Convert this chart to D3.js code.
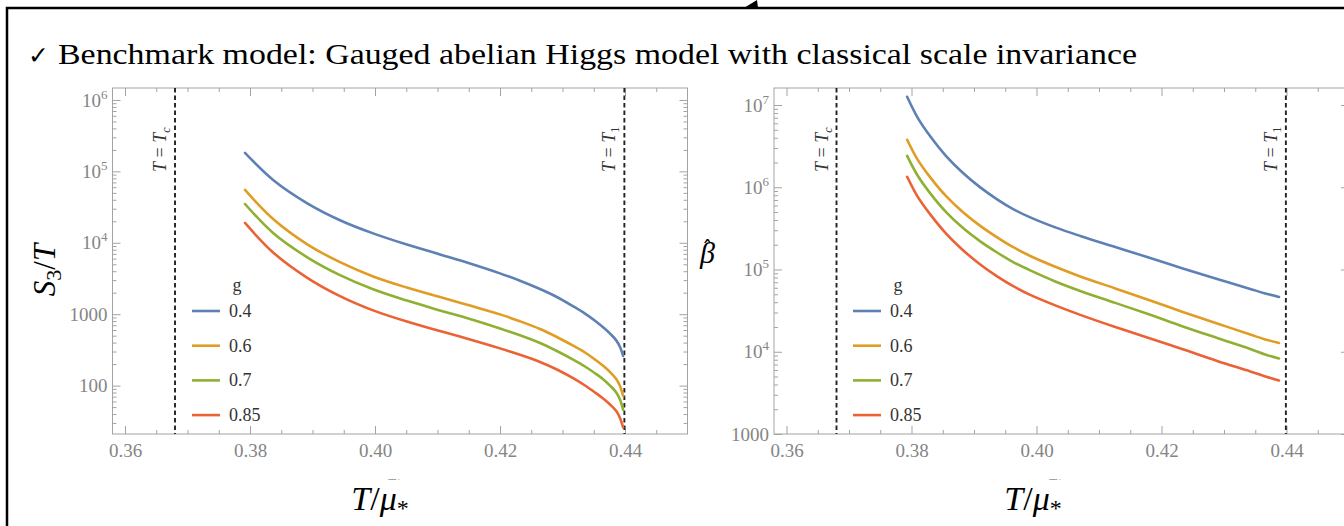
<!DOCTYPE html>
<html>
<head>
<meta charset="utf-8">
<script src="https://cdn.jsdelivr.net/npm/d3@7"></script>
<style>
  body { margin: 0; background: #fff; }
  svg { display: block; }
</style>
</head>
<body>
<svg id="chart" width="1344" height="526"></svg>
<script>
// ---- data ----
const couplings = ["0.4", "0.6", "0.7", "0.85"];
const tempMajorTicks = [0.36, 0.38, 0.40, 0.42, 0.44];
const tempRange = [0.358, 0.45];
const tCritical = 0.368;   // T = T_c
const tOne = 0.4399;       // T = T_1

// S3/T against T/mu*
const tempS3 = [0.3792, 0.3837, 0.3891, 0.3944, 0.3997, 0.4051, 0.4104, 0.4152, 0.4200,
  0.4232, 0.4264, 0.4291, 0.4317, 0.4336, 0.4352, 0.4365, 0.4376, 0.4386, 0.4392, 0.4397];
const s3_g040 = [1.81e5, 7.58e4, 3.60e4, 2.07e4, 1.354e4, 9.44e3, 6.86e3, 5.13e3, 3.73e3,
  2.94e3, 2.25e3, 1.74e3, 1.29e3, 1.02e3, 811, 655, 535, 430, 347, 260];
const s3_g060 = [5.49e4, 2.15e4, 9.59e3, 5.35e3, 3.38e3, 2.36e3, 1.74e3, 1.32e3, 994,
  795, 620, 479, 362, 291, 231, 189, 155, 124, 98.7, 71.5];
const s3_g070 = [3.49e4, 1.372e4, 6.31e3, 3.52e3, 2.23e3, 1.55e3, 1.13e3, 857, 632,
  506, 395, 305, 231, 185, 149, 123, 100, 80.3, 63.9, 45.5];
const s3_g085 = [1.894e4, 7.31e3, 3.26e3, 1.79e3, 1.13e3, 788, 582, 442, 332,
  270, 214, 168, 127, 100.3, 80.1, 65.9, 54.4, 44.1, 35.2, 25.9];

// beta-hat against T/mu*
const tempBeta = [0.3793, 0.3810, 0.3830, 0.3855, 0.3882, 0.3910, 0.3937, 0.3962,
  0.3990, 0.4030, 0.4070, 0.4126, 0.4182, 0.4234, 0.4289, 0.4342, 0.4366, 0.4388];
const beta_g040 = [1.26e7, 6.98e6, 4.16e6, 2.41e6, 1.50e6, 9.97e5, 7.13e5, 5.46e5,
  4.30e5, 3.25e5, 2.56e5, 1.88e5, 1.38e5, 1.03e5, 7.69e4, 5.81e4, 5.12e4, 4.64e4];
const beta_g060 = [3.78e6, 2.15e6, 1.32e6, 7.85e5, 5.01e5, 3.39e5, 2.46e5, 1.88e5,
  1.46e5, 1.08e5, 8.24e4, 5.89e4, 4.21e4, 3.05e4, 2.21e4, 1.62e4, 1.41e4, 1.28e4];
const beta_g070 = [2.41e6, 1.38e6, 8.43e5, 5.02e5, 3.21e5, 2.20e5, 1.61e5, 1.24e5,
  9.75e4, 7.16e4, 5.49e4, 3.93e4, 2.81e4, 2.03e4, 1.47e4, 1.08e4, 9.27e3, 8.28e3];
const beta_g085 = [1.34e6, 7.64e5, 4.68e5, 2.75e5, 1.73e5, 1.15e5, 8.24e4, 6.31e4,
  4.91e4, 3.66e4, 2.81e4, 2.00e4, 1.45e4, 1.07e4, 7.73e3, 5.76e3, 5.01e3, 4.48e3];

const s3Range = [21, 1.47e6];
const betaRange = [1000, 1.61e7];
const s3Ticks = [100, 1000, 1e4, 1e5, 1e6];
const betaTicks = [1000, 1e4, 1e5, 1e6, 1e7];

// ---- styles ----
const lineColors = ["#5E81B5", "#E19C24", "#8FB032", "#EB6235"];
const serif = "'Liberation Serif', 'Times New Roman', serif";
const frameColor = "#a3a3a3";
const tickLabelColor = "#858585";
const TOP = 88, BOTTOM = 434;

const svg = d3.select("#chart");
svg.append("rect").attr("width", 1344).attr("height", 526).attr("fill", "#fff");

// slide frame
svg.append("path").attr("d", "M7,526V8H1344")
  .attr("fill", "none").attr("stroke", "#000").attr("stroke-width", 2.5);
svg.append("path").attr("d", "M744,8L757,0L758,8Z").attr("fill", "#000");

// heading
svg.append("text").attr("x", 28).attr("y", 64)
  .attr("font-family", "'DejaVu Sans', sans-serif").attr("font-size", 25)
  .attr("fill", "#000").text("\u2713");
svg.append("text").attr("x", 58).attr("y", 64)
  .attr("font-family", serif).attr("font-size", 30).attr("fill", "#000")
  .attr("textLength", 1079).attr("lengthAdjust", "spacingAndGlyphs")
  .text("Benchmark model: Gauged abelian Higgs model with classical scale invariance");

function logMinor(domain) {
  const out = [];
  for (let e = Math.floor(Math.log10(domain[0])); e <= Math.ceil(Math.log10(domain[1])); e++) {
    for (let k = 2; k <= 9; k++) {
      const v = k * Math.pow(10, e);
      if (v > domain[0] && v < domain[1]) out.push(v);
    }
  }
  return out;
}

function tempMinor() {
  const out = [];
  for (let i = 0; i <= 18; i++) {
    const v = +(0.36 + i * 0.005).toFixed(3);
    if (v < tempRange[1] && !tempMajorTicks.some(t => Math.abs(t - v) < 1e-6)) out.push(v);
  }
  return out;
}

function styleAxis(sel) {
  sel.select(".domain").remove();
  sel.selectAll(".tick line").attr("stroke", frameColor).attr("stroke-width", 1);
  sel.selectAll(".tick text").attr("fill", tickLabelColor)
    .attr("font-family", serif).attr("font-size", 19);
}

function drawPanel(p) {
  const g = svg.append("g");
  const x = d3.scaleLinear().domain(tempRange).range([p.left, p.right]);
  const y = d3.scaleLog().domain(p.yDomain).range([BOTTOM, TOP]);

  // frame ticks, pointing inward
  const minorX = tempMinor();
  const minorY = logMinor(p.yDomain);

  g.append("g").attr("transform", `translate(0,${BOTTOM})`)
    .call(d3.axisBottom(x).tickValues(tempMajorTicks).tickSize(-8).tickPadding(10)
      .tickFormat(d3.format(".2f"))).call(styleAxis);
  g.append("g").attr("transform", `translate(0,${BOTTOM})`)
    .call(d3.axisBottom(x).tickValues(minorX).tickSize(-4).tickFormat("")).call(styleAxis);
  g.append("g").attr("transform", `translate(0,${TOP})`)
    .call(d3.axisTop(x).tickValues(tempMajorTicks).tickSize(-8).tickFormat("")).call(styleAxis);
  g.append("g").attr("transform", `translate(0,${TOP})`)
    .call(d3.axisTop(x).tickValues(minorX).tickSize(-4).tickFormat("")).call(styleAxis);

  const yLeft = g.append("g").attr("transform", `translate(${p.left},0)`)
    .call(d3.axisLeft(y).tickValues(p.yTicks).tickSize(-8).tickPadding(5).tickFormat(""))
    .call(styleAxis);
  yLeft.selectAll(".tick text").each(function (d) {
    const t = d3.select(this);
    if (d >= 1e4) {
      t.text("10");
      t.append("tspan").attr("dy", -8).attr("font-size", 13).text(Math.round(Math.log10(d)));
    } else {
      t.text(String(d));
    }
  });
  g.append("g").attr("transform", `translate(${p.left},0)`)
    .call(d3.axisLeft(y).tickValues(minorY).tickSize(-4).tickFormat("")).call(styleAxis);
  g.append("g").attr("transform", `translate(${p.right},0)`)
    .call(d3.axisRight(y).tickValues(p.yTicks).tickSize(-8).tickFormat("")).call(styleAxis);
  g.append("g").attr("transform", `translate(${p.right},0)`)
    .call(d3.axisRight(y).tickValues(minorY).tickSize(-4).tickFormat("")).call(styleAxis);

  g.append("rect").attr("x", p.left).attr("y", TOP)
    .attr("width", p.right - p.left).attr("height", BOTTOM - TOP)
    .attr("fill", "none").attr("stroke", frameColor).attr("stroke-width", 1);

  // reference temperatures
  [tCritical, tOne].forEach(t => {
    g.append("line").attr("x1", x(t)).attr("x2", x(t)).attr("y1", TOP).attr("y2", BOTTOM)
      .attr("stroke", "#222").attr("stroke-width", 1.9).attr("stroke-dasharray", "4.5,3");
  });
  const markLabel = (t, sub) => {
    const tx = g.append("text")
      .attr("transform", `translate(${x(t) - 9},172) rotate(-90)`)
      .attr("font-family", serif).attr("font-size", 18).attr("fill", "#333");
    tx.append("tspan").attr("font-style", "italic").text("T");
    tx.append("tspan").text(" = ");
    tx.append("tspan").attr("font-style", "italic").text("T");
    tx.append("tspan").attr("dy", 4).attr("font-size", 12)
      .attr("font-style", sub === "c" ? "italic" : "normal").text(sub);
  };
  markLabel(tCritical, "c");
  markLabel(tOne, "1");

  // curves
  const line = d3.line().x(d => x(d[0])).y(d => y(d[1])).curve(d3.curveCatmullRom.alpha(0.5));
  p.series.forEach((vals, i) => {
    g.append("path").datum(p.temps.map((t, j) => [t, vals[j]]))
      .attr("d", line).attr("fill", "none").attr("stroke", lineColors[i])
      .attr("stroke-width", 2.6).attr("stroke-linecap", "round");
  });

  // legend
  const lg = g.append("g").attr("font-family", serif).attr("font-size", 18).attr("fill", "#333");
  lg.append("text").attr("x", p.legendX + 45).attr("y", 291).attr("text-anchor", "middle").text("g");
  couplings.forEach((c, i) => {
    const ly = 311 + i * 34.7;
    lg.append("line").attr("x1", p.legendX).attr("x2", p.legendX + 28)
      .attr("y1", ly).attr("y2", ly).attr("stroke", lineColors[i]).attr("stroke-width", 2.6);
    lg.append("text").attr("x", p.legendX + 37).attr("y", ly + 6).text(c);
  });

  // faint, mostly covered axis caption
  const clipId = "cap" + p.id;
  svg.append("clipPath").attr("id", clipId).append("rect")
    .attr("x", p.capX - 30).attr("y", 470).attr("width", 60).attr("height", 10);
  const cap = svg.append("text").attr("clip-path", `url(#${clipId})`)
    .attr("x", p.capX).attr("y", 489).attr("text-anchor", "middle")
    .attr("font-family", serif).attr("font-size", 15).attr("fill", "#999");
  cap.append("tspan").attr("font-style", "italic").text("T");
  cap.append("tspan").text("/");
  cap.append("tspan").attr("font-style", "italic").text("\u03bc");

  // x axis title
  const xt = svg.append("text").attr("x", p.xTitleX).attr("y", 510).attr("text-anchor", "middle")
    .attr("font-family", serif).attr("font-size", 34).attr("fill", "#000");
  xt.append("tspan").attr("font-style", "italic").text("T");
  xt.append("tspan").text("/");
  xt.append("tspan").attr("font-style", "italic").text("\u03bc");
  xt.append("tspan").attr("dy", 6).attr("font-size", 24).text("*");
}

drawPanel({
  id: "s3", left: 112.5, right: 687.5, yDomain: s3Range, yTicks: s3Ticks,
  temps: tempS3, series: [s3_g040, s3_g060, s3_g070, s3_g085],
  legendX: 192, capX: 397, xTitleX: 380
});
drawPanel({
  id: "beta", left: 774, right: 1349, yDomain: betaRange, yTicks: betaTicks,
  temps: tempBeta, series: [beta_g040, beta_g060, beta_g070, beta_g085],
  legendX: 853, capX: 1058, xTitleX: 1033
});

// y axis titles
const s3Title = svg.append("text").attr("transform", "translate(55,270) rotate(-90)")
  .attr("text-anchor", "middle").attr("font-family", serif).attr("font-size", 31).attr("fill", "#000");
s3Title.append("tspan").attr("font-style", "italic").text("S");
s3Title.append("tspan").attr("dy", 6).attr("font-size", 22).text("3");
s3Title.append("tspan").attr("dy", -6).text("/");
s3Title.append("tspan").attr("font-style", "italic").text("T");

// beta with a hat, kept in one text element
const betaTitle = svg.append("text").attr("x", 700).attr("y", 263)
  .attr("font-family", serif).attr("font-size", 30).attr("fill", "#000");
betaTitle.append("tspan").attr("font-style", "italic").text("\u03b2");
betaTitle.append("tspan").attr("dx", -13).attr("dy", -7)
  .attr("font-family", "'DejaVu Sans', sans-serif").attr("font-size", 22).text("\u02c6");
</script>
</body>
</html>
